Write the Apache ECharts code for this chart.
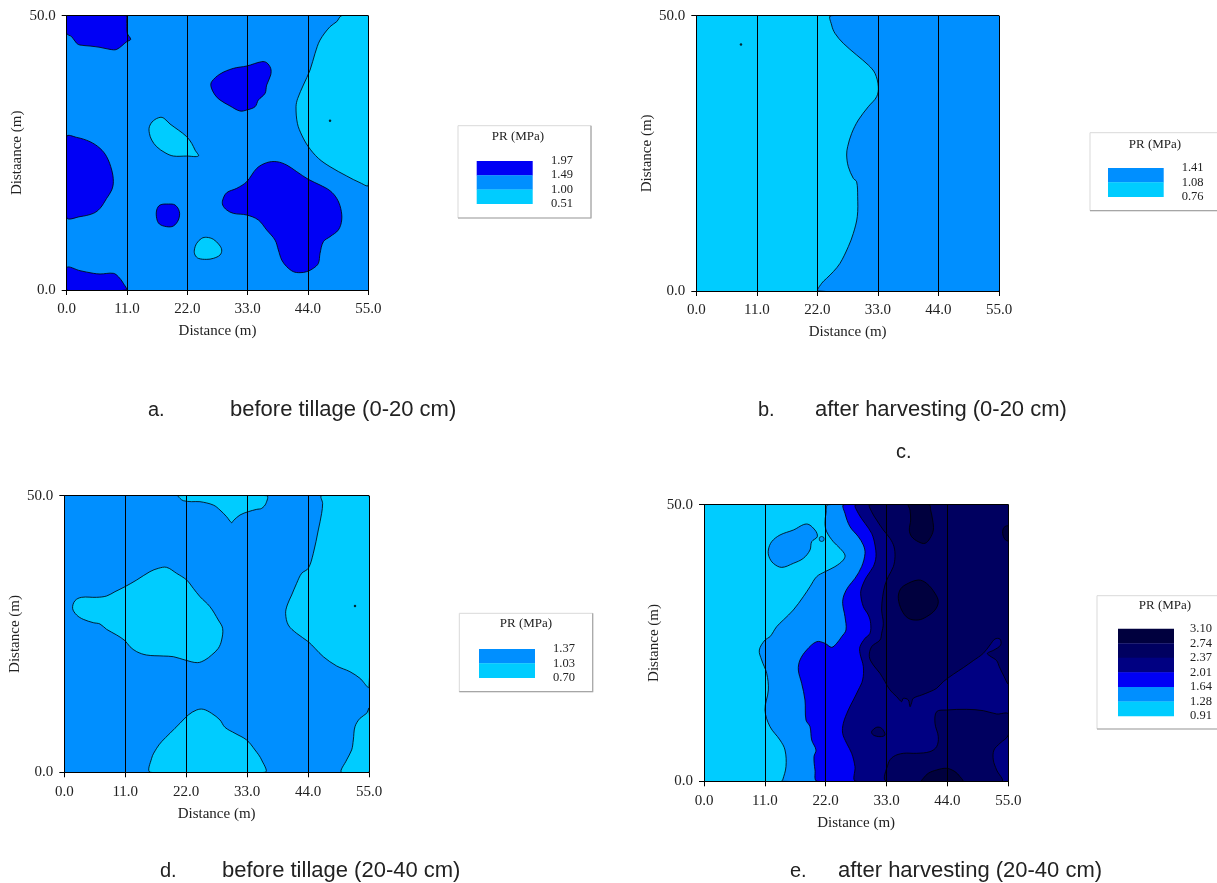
<!DOCTYPE html>
<html>
<head>
<meta charset="utf-8">
<script src="https://cdn.jsdelivr.net/npm/echarts@6/dist/echarts.min.js"></script>
<style>
html, body { margin: 0; background: #fff; }
#chart { width: 1217px; height: 883px; }
</style>
</head>
<body>
<div id="chart"></div>
<script>
// colours of the contour classes
var cCyan = '#00CCFF', cMid = '#008FFF', cBlue = '#0000F5';
var cNavy1 = '#000082', cNavy2 = '#000060', cNavy3 = '#00003E';

// legend levels (top -> bottom)
var levelsA = [1.97, 1.49, 1.00, 0.51];
var levelsB = [1.41, 1.08, 0.76];
var levelsD = [1.37, 1.03, 0.70];
var levelsE = [3.10, 2.74, 2.37, 2.01, 1.64, 1.28, 0.91];

// ---- a. before tillage (0-20 cm): contour rings in metres [x, y]
var aDark1 = [[0,50],[10.82,50],[10.94,49.2],[11.06,46.78],[11.67,45.69],[10.94,45.26],[9.12,43.86],[7.9,43.86],[6.08,44.23],[4.26,44.47],[2.43,44.65],[1.82,44.96],[0.91,46.17],[0,46.78]];
var aDark2 = [[0,27.95],[1.82,27.82],[4.26,27.03],[6.08,25.82],[7.29,24.3],[8.21,21.87],[8.51,19.74],[8.21,18.23],[7.29,16.71],[6.08,14.88],[4.86,13.97],[2.43,13.37],[0,13.24]];
var aDark3 = [[0,4.07],[2.43,3.52],[4.86,3.04],[6.08,2.92],[8.51,3.04],[9.42,2.43],[10.33,1.22],[10.82,0],[0,0]];
var aDark4 = [[26.44,37.97],[27.96,39.37],[30.4,40.4],[32.83,40.83],[35.56,41.62],[36.47,41.43],[37.2,40.4],[37.2,39.19],[36.47,37.36],[36.17,35.84],[34.95,34.63],[34.35,33.41],[32.83,32.81],[31.61,32.62],[29.79,33.54],[27.96,34.63],[27.05,35.54],[26.32,37.06]];
var aDark5 = [[16.41,14.58],[17.02,15.49],[18.54,15.67],[19.76,15.49],[20.55,14.28],[20.36,12.76],[19.45,11.66],[18.24,11.54],[16.9,12.03],[16.41,13.06]];
var aDark6 = [[28.45,16.4],[29.18,17.74],[31.0,18.53],[32.83,19.74],[34.65,22.17],[36.47,23.21],[38.3,23.39],[40.12,22.78],[41.95,21.57],[44.07,20.17],[46.2,19.14],[48.02,18.1],[49.24,16.71],[49.97,14.88],[50.15,12.76],[49.54,10.94],[48.02,9.72],[46.81,8.81],[46.2,6.68],[45.9,4.86],[44.98,3.95],[43.77,3.34],[42.55,3.16],[41.34,3.34],[40.12,4.25],[39.21,5.47],[38.6,7.29],[37.99,9.11],[36.47,10.94],[34.95,12.76],[32.83,13.67],[30.4,13.97],[29.18,14.58],[28.45,15.49]];
var aLight1 = [[50.15,50],[49.24,48.91],[48.02,48.0],[46.2,45.56],[45.29,43.14],[44.38,40.1],[43.16,37.36],[42.13,34.93],[41.82,33.41],[42.07,30.38],[42.86,28.25],[44.07,26.12],[45.9,24.0],[48.02,22.48],[51.06,20.78],[53.5,19.56],[55,19.14],[55,50]];
var aLight2 = [[15.08,29.77],[15.81,30.86],[17.02,31.47],[17.75,31.29],[18.84,30.26],[20.36,29.16],[21.88,27.95],[22.8,26.73],[23.4,25.52],[24.01,24.42],[21.88,24.42],[19.45,24.42],[17.93,25.03],[16.41,26.12],[15.5,27.34],[15.08,28.55]];
var aLight3 = [[23.28,7.29],[23.71,8.51],[24.62,9.42],[25.53,9.6],[26.75,9.24],[27.84,8.2],[28.27,7.29],[27.96,6.38],[26.75,5.77],[25.53,5.59],[24.01,5.77],[23.4,6.38]];
var aDots = [[48.02,30.86]];

// ---- b. after harvesting (0-20 cm)
var bMid1 = [[24.47,50],[24.59,48.3],[25.2,46.79],[26.71,44.98],[29.13,42.86],[31.25,41.04],[32.47,39.53],[33.07,37.11],[32.77,35.29],[31.25,33.47],[29.44,31.05],[28.23,28.63],[27.5,26.21],[27.32,24.7],[27.62,22.58],[28.53,20.46],[29.13,19.85],[29.32,17.13],[29.25,13.5],[28.53,10.47],[27.62,8.05],[26.11,5.02],[24.89,3.51],[23.68,2.3],[22.77,1.39],[22.17,0],[55,0],[55,50]];
var bDots = [[8.12,44.79]];

// ---- d. before tillage (20-40 cm)
var dLight1 = [[20.58,50],[36.52,50],[36.4,48.61],[35.62,47.71],[34.72,47.53],[33.21,47.11],[31.71,46.51],[30.51,45.48],[30.2,45.12],[29.3,46.2],[28.1,47.41],[26.9,48.31],[24.49,48.92],[22.98,48.92],[21.48,49.1],[20.88,49.52]];
var dLight2 = [[46.45,50],[55,50],[55,15.48],[53.37,16.99],[51.56,18.19],[49.16,19.22],[46.75,20.9],[45.25,22.41],[44.04,23.61],[41.94,25.12],[40.43,26.63],[39.95,28.73],[40.25,30.24],[41.04,32.05],[41.94,34.16],[42.84,35.96],[44.04,36.87],[44.95,39.58],[45.85,43.8],[46.45,46.81],[46.63,48.61]];
var dLight3 = [[1.5,29.64],[1.93,31.02],[3.13,31.63],[5.84,31.63],[7.64,31.87],[9.15,32.65],[10.95,33.55],[13.06,34.76],[15.46,36.27],[16.97,36.87],[18.47,37.05],[20.28,35.96],[22.08,34.76],[23.29,33.25],[24.49,31.75],[26.29,29.94],[27.8,27.53],[28.58,26.02],[28.4,23.92],[27.8,22.41],[26.59,21.2],[25.39,20.3],[24.01,19.82],[21.78,20.3],[19.68,20.9],[17.87,21.02],[14.86,21.2],[13.06,21.81],[11.85,22.71],[10.95,23.8],[9.45,24.82],[7.64,25.84],[6.44,26.81],[5.23,27.05],[3.43,27.65],[2.23,28.43]];
var dLight4 = [[15.58,0],[15.76,2.53],[16.67,4.34],[17.57,5.54],[19.07,7.05],[20.88,8.86],[22.38,10.36],[23.89,11.27],[25.09,11.39],[26.59,10.66],[28.1,9.46],[29.0,8.13],[30.81,7.05],[32.91,5.84],[34.42,4.04],[35.62,2.23],[36.22,0]];
var dLight5 = [[50.06,0],[50.96,2.23],[51.87,4.04],[52.17,5.84],[52.47,8.25],[53.37,9.76],[54.57,10.66],[55,11.57],[55,0]];
var dDots = [[52.47,30.06]];

// ---- e. after harvesting (20-40 cm)
var eMid1 = [[22.47,50],[22.05,48.43],[21.87,46.63],[22.17,45.12],[23.37,43.31],[24.58,42.11],[25.48,40.9],[25.18,40.0],[23.67,38.8],[21.87,37.89],[20.36,36.99],[19.16,35.18],[17.95,33.37],[16.14,30.96],[14.34,29.16],[13.13,27.95],[11.93,26.14],[11.02,25.54],[10.0,23.73],[10.42,21.93],[11.33,19.52],[11.63,16.51],[11.02,12.89],[11.93,9.88],[13.73,7.47],[14.64,5.66],[14.82,2.65],[14.22,0.24],[14.04,0],[55,0],[55,50]];
var eMid2 = [[11.63,41.81],[12.23,43.31],[13.73,44.52],[16.14,45.42],[18.55,46.51],[20.06,45.42],[20.48,44.22],[19.46,43.31],[19.16,41.81],[17.95,40.3],[16.14,39.4],[14.04,38.67],[12.53,39.4],[11.75,40.6]];
var eMidDots = [[21.27,43.8]];
var eBlue1 = [[25.3,50],[25.48,48.43],[26.39,46.02],[27.89,44.22],[28.8,42.71],[29.1,41.2],[28.49,38.8],[27.29,36.69],[26.08,35.18],[25.3,33.67],[25.06,32.17],[25.48,29.76],[25.66,27.35],[24.88,26.14],[23.98,24.94],[23.07,24.22],[21.87,24.94],[20.36,25.24],[18.55,23.73],[17.35,21.93],[17.05,20.12],[17.65,17.71],[18.25,14.7],[18.43,11.08],[19.16,9.88],[19.46,7.47],[20.24,5.66],[19.88,4.46],[20.06,2.05],[20.48,0],[55,0],[55,50]];
var eNavy1 = [[27.47,50],[27.89,48.43],[29.1,46.63],[30.3,44.82],[30.9,42.71],[31.08,40.6],[30.6,38.8],[29.4,36.99],[28.67,35.48],[28.31,33.98],[28.8,31.57],[29.7,30.06],[30.12,28.55],[30.0,26.75],[29.1,25.84],[28.19,24.34],[28.19,23.13],[28.8,20.72],[28.67,18.31],[27.89,16.51],[26.99,14.7],[26.08,12.89],[25.18,10.48],[25.06,8.67],[25.78,6.87],[26.69,5.06],[27.29,2.65],[27.47,0],[55,0],[55,50]];
var eNavy2a = [[30.0,50],[55,50],[55,17.71],[54.1,19.22],[53.37,20.72],[52.89,21.81],[51.69,22.65],[51.2,23.13],[52.41,23.73],[53.61,24.64],[53.49,25.72],[52.59,25.72],[51.69,24.64],[50.48,23.13],[48.67,21.81],[46.87,20.54],[45.06,19.34],[43.25,18.01],[42.05,16.81],[40.84,16.2],[39.34,15.6],[37.83,15.0],[37.53,14.22],[37.23,13.49],[36.93,14.7],[36.02,15.0],[35.72,14.4],[34.82,15.3],[33.61,16.51],[32.71,18.01],[31.81,19.52],[30.6,21.02],[29.88,22.53],[30.3,24.34],[31.81,25.54],[32.11,26.75],[32.41,28.55],[32.11,30.96],[32.29,33.37],[32.71,35.48],[33.31,36.99],[34.22,38.8],[34.52,40.6],[34.34,42.41],[33.61,43.92],[32.41,45.42],[31.2,47.23],[30.3,48.73]];
var eNavy2b = [[42.05,12.59],[43.86,12.89],[47.47,13.01],[50.48,12.77],[52.89,12.17],[55,12.17],[55,8.37],[53.49,6.87],[52.41,5.66],[52.29,3.86],[52.89,2.05],[53.8,0],[33.01,0],[33.31,3.25],[34.22,4.46],[36.02,5.06],[38.43,5.06],[40.84,5.36],[42.05,6.27],[42.35,8.07],[41.75,10.48]];
var eNavy2c = [[30.3,8.98],[31.2,9.76],[32.11,9.58],[32.71,8.37],[31.81,8.07],[30.6,8.37]];
var eNavy3a = [[36.99,50],[37.23,49.04],[37.35,47.23],[37.11,45.42],[37.53,44.22],[38.73,43.31],[39.94,43.01],[40.84,43.92],[41.45,45.42],[41.33,47.23],[40.96,49.04],[40.72,50]];
var eNavy3b = [[35.42,34.58],[36.33,35.48],[38.73,36.39],[40.24,35.78],[41.75,33.98],[42.35,32.47],[41.75,30.96],[40.24,29.76],[38.73,29.16],[36.93,29.46],[35.72,30.96],[35.12,33.07]];
var eNavy3c = [[39.34,0],[39.64,0.54],[40.54,1.45],[42.05,2.05],[43.86,2.35],[45.36,1.75],[46.27,0.84],[46.75,0]];
var eNavy3d = [[55,46.14],[54.22,45.9],[53.98,44.82],[54.4,43.73],[55,43.49]];

var captions = [
  { tag: 'a.', text: 'before tillage (0-20 cm)', x: 148, tx: 230, y: 410 },
  { tag: 'b.', text: 'after harvesting (0-20 cm)', x: 758, tx: 815, y: 410 },
  { tag: 'c.', text: '', x: 896, tx: 0, y: 452 },
  { tag: 'd.', text: 'before tillage (20-40 cm)', x: 160, tx: 222, y: 871 },
  { tag: 'e.', text: 'after harvesting (20-40 cm)', x: 790, tx: 838, y: 871 }
];

var chart = echarts.init(document.getElementById('chart'));

var serif = 'Liberation Serif, Times New Roman, serif';
var sans = 'Liberation Sans, Arial, sans-serif';

var grids = [
  { left: 66.7, top: 15.7, width: 301.6, height: 274.3, bg: cMid, yName: 'Distaance (m)' },
  { left: 696.3, top: 15.7, width: 302.7, height: 275.3, bg: cCyan, yName: 'Distance (m)' },
  { left: 64.3, top: 495.7, width: 304.7, height: 276.6, bg: cMid, yName: 'Distance (m)' },
  { left: 704, top: 504.7, width: 304.3, height: 276.6, bg: cCyan, yName: 'Distance (m)' }
];

function ringSeries(gi, rings, color) {
  return {
    type: 'custom', xAxisIndex: gi, yAxisIndex: gi, clip: true, silent: true,
    data: rings.map(function (r, i) { return [i]; }),
    renderItem: function (params, api) {
      var pts = rings[params.dataIndex].map(function (p) { return api.coord(p); });
      return {
        type: 'polygon',
        shape: { points: pts, smooth: 0.35 },
        style: { fill: color, stroke: '#000', lineWidth: 0.8 }
      };
    }
  };
}

function dotSeries(gi, pts, color, size) {
  return {
    type: 'scatter', xAxisIndex: gi, yAxisIndex: gi, silent: true, z: 4,
    data: pts, symbolSize: size,
    itemStyle: { color: color, borderColor: '#000', borderWidth: size > 3 ? 0.8 : 0 }
  };
}

function legendGraphics(box, title, rect, levels, colors) {
  var g = [];
  g.push({ type: 'rect', shape: { x: box.x, y: box.y, width: box.w, height: box.h },
    style: { fill: '#fff', stroke: '#d9d9d9', lineWidth: 1 } });
  g.push({ type: 'polyline', shape: { points: [[box.x + box.w, box.y], [box.x + box.w, box.y + box.h], [box.x, box.y + box.h]] },
    style: { stroke: '#a6a6a6', lineWidth: 1.2, fill: null } });
  g.push({ type: 'text', x: title.x, y: title.y,
    style: { text: 'PR (MPa)', font: '13px ' + serif, fill: '#222', align: 'center', verticalAlign: 'middle' } });
  for (var i = 0; i < colors.length; i++) {
    g.push({ type: 'rect', shape: { x: rect.x, y: rect.y + i * rect.bh, width: rect.w, height: rect.bh + 0.3 },
      style: { fill: colors[i] } });
  }
  for (var j = 0; j < levels.length; j++) {
    g.push({ type: 'text', x: rect.lx, y: rect.y + j * rect.bh,
      style: { text: levels[j].toFixed(2), font: '12.5px ' + serif, fill: '#222', align: 'left', verticalAlign: 'middle' } });
  }
  return g;
}

var graphic = [];
graphic = graphic.concat(legendGraphics({ x: 458, y: 125.7, w: 133, h: 92.3 }, { x: 518, y: 137 },
  { x: 476.7, y: 161, w: 56, bh: 14.2, lx: 551 }, levelsA, [cBlue, cMid, cCyan]));
graphic = graphic.concat(legendGraphics({ x: 1090, y: 132.7, w: 140, h: 78 }, { x: 1155, y: 145 },
  { x: 1108, y: 168, w: 55.7, bh: 14.3, lx: 1181.7 }, levelsB, [cMid, cCyan]));
graphic = graphic.concat(legendGraphics({ x: 459.3, y: 613.3, w: 133.4, h: 78.4 }, { x: 526, y: 624 },
  { x: 479, y: 649, w: 56, bh: 14.3, lx: 553 }, levelsD, [cMid, cCyan]));
graphic = graphic.concat(legendGraphics({ x: 1097, y: 595.7, w: 140, h: 133.3 }, { x: 1165, y: 605.7 },
  { x: 1118, y: 628.7, w: 56, bh: 14.55, lx: 1190 }, levelsE, [cNavy3, cNavy2, cNavy1, cBlue, cMid, cCyan]));

captions.forEach(function (c) {
  graphic.push({ type: 'text', x: c.x, y: c.y,
    style: { text: c.tag, font: '20px ' + sans, fill: '#222', verticalAlign: 'middle' } });
  if (c.text) {
    graphic.push({ type: 'text', x: c.tx, y: c.y,
      style: { text: c.text, font: '22px ' + sans, fill: '#222', verticalAlign: 'middle' } });
  }
});

var option = {
  animation: false,
  backgroundColor: '#fff',
  grid: grids.map(function (g) {
    return { left: g.left, top: g.top, width: g.width, height: g.height, show: true,
      backgroundColor: g.bg, borderWidth: 0 };
  }),
  xAxis: grids.map(function (g, i) {
    return {
      gridIndex: i, type: 'value', min: 0, max: 55, interval: 11, z: 10,
      name: 'Distance (m)', nameLocation: 'middle', nameGap: 34,
      nameTextStyle: { fontFamily: serif, fontSize: 15, color: '#222' },
      axisLine: { show: true, onZero: false, lineStyle: { color: '#000', width: 1 } },
      axisTick: { show: true, length: 5, lineStyle: { color: '#000' } },
      axisLabel: { margin: 12, fontFamily: serif, fontSize: 15, color: '#222',
        formatter: function (v) { return v.toFixed(1); } },
      splitLine: { show: true, lineStyle: { color: '#000', width: 1 } }
    };
  }),
  yAxis: grids.map(function (g, i) {
    return {
      gridIndex: i, type: 'value', min: 0, max: 50, interval: 50, z: 10,
      name: g.yName, nameLocation: 'middle', nameGap: 42,
      nameTextStyle: { fontFamily: serif, fontSize: 15, color: '#222' },
      axisLine: { show: true, onZero: false, lineStyle: { color: '#000', width: 1 } },
      axisTick: { show: true, length: 5, lineStyle: { color: '#000' } },
      axisLabel: { margin: 11, fontFamily: serif, fontSize: 15, color: '#222',
        formatter: function (v) { return v.toFixed(1); } },
      splitLine: { show: true, lineStyle: { color: '#000', width: 1 } }
    };
  }),
  series: [
    ringSeries(0, [aDark1, aDark2, aDark3, aDark4, aDark5, aDark6], cBlue),
    ringSeries(0, [aLight1, aLight2, aLight3], cCyan),
    dotSeries(0, aDots, '#000', 2.5),
    ringSeries(1, [bMid1], cMid),
    dotSeries(1, bDots, '#000', 2.5),
    ringSeries(2, [dLight1, dLight2, dLight3, dLight4, dLight5], cCyan),
    dotSeries(2, dDots, '#000', 2.5),
    ringSeries(3, [eMid1, eMid2], cMid),
    dotSeries(3, eMidDots, cMid, 5),
    ringSeries(3, [eBlue1], cBlue),
    ringSeries(3, [eNavy1], cNavy1),
    ringSeries(3, [eNavy2a, eNavy2b, eNavy2c], cNavy2),
    ringSeries(3, [eNavy3a, eNavy3b, eNavy3c, eNavy3d], cNavy3)
  ],
  graphic: graphic
};

chart.setOption(option);
window.onresize = chart.resize;
</script>
</body>
</html>
